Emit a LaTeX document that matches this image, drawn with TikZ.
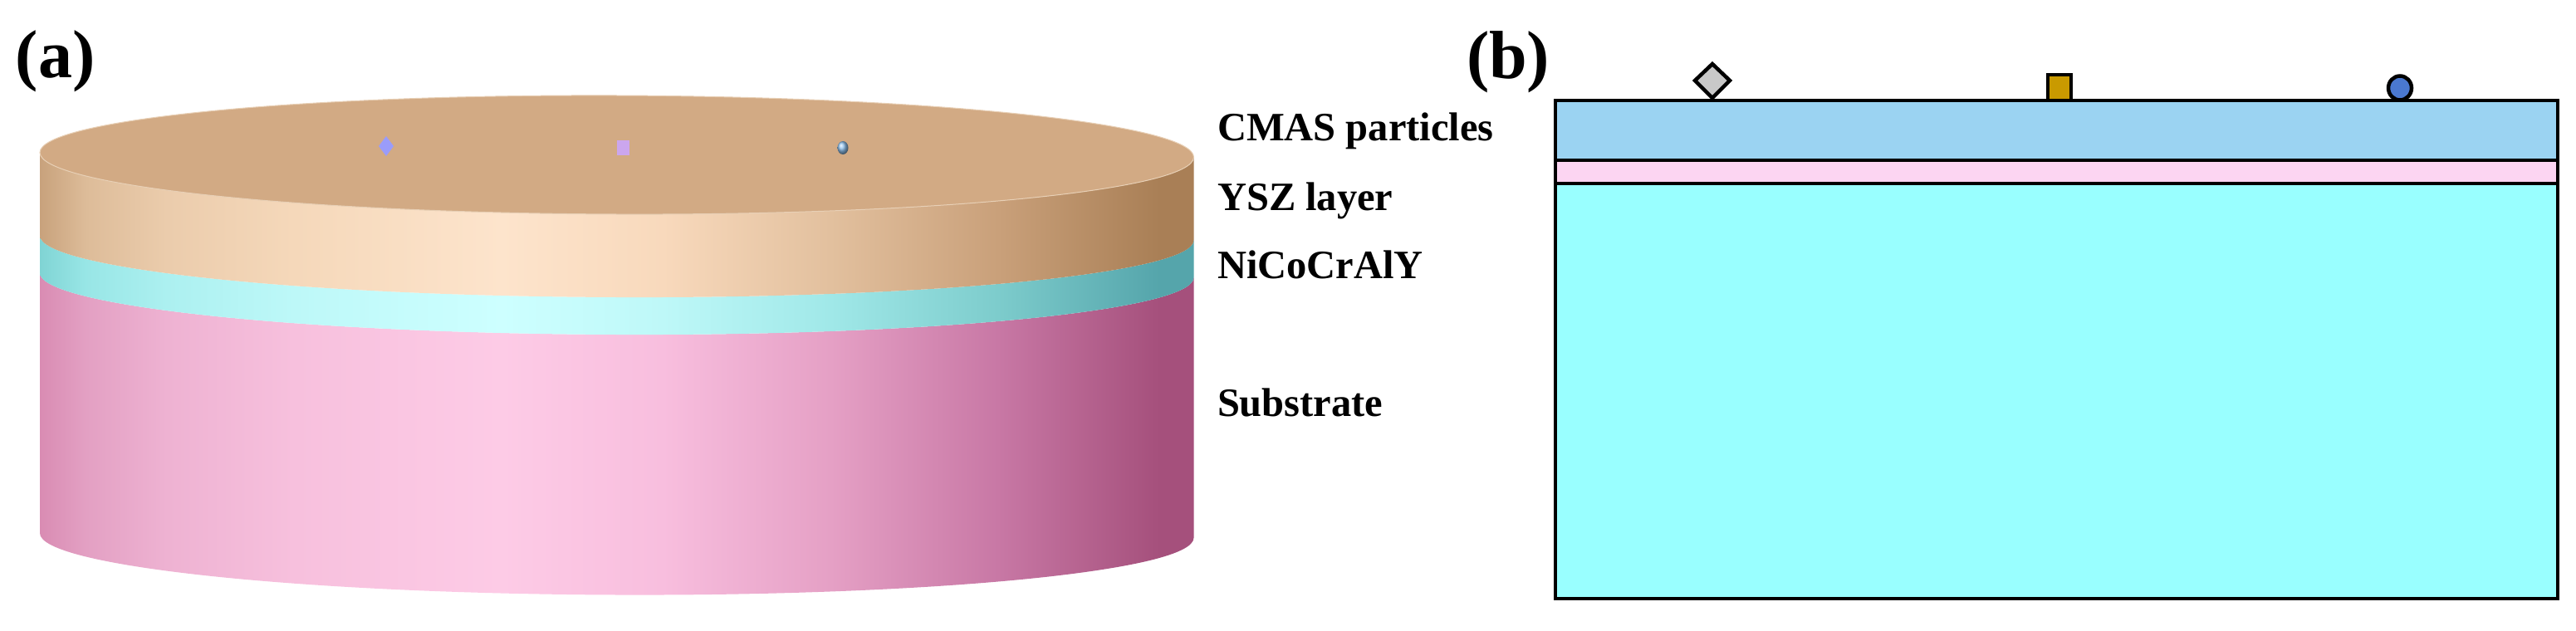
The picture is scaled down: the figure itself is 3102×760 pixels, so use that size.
\documentclass[tikz,border=0pt]{standalone}
\usepackage{fontspec}
\setmainfont{Liberation Serif}
\definecolor{topface}{HTML}{D2AA84}
\definecolor{topedge}{HTML}{E8D0B6}
\definecolor{blueL}{HTML}{9BD3F2}
\definecolor{pinkL}{HTML}{FCD5F2}
\definecolor{cyanL}{HTML}{99FFFF}
\definecolor{ya}{HTML}{C8A27C}\definecolor{yb}{HTML}{DDBC99}\definecolor{yi}{HTML}{EBCCAC}\definecolor{yc}{HTML}{F5D8BA}\definecolor{yd}{HTML}{FDE4CC}\definecolor{ye}{HTML}{F8D9BC}\definecolor{yf}{HTML}{E2C09E}\definecolor{yg}{HTML}{C9A07A}\definecolor{yh}{HTML}{A97F56}
\definecolor{ta}{HTML}{80D4D4}\definecolor{tb}{HTML}{98E6E6}\definecolor{ti}{HTML}{ACF0F0}\definecolor{tc}{HTML}{BDF8F8}\definecolor{td}{HTML}{CDFFFF}\definecolor{te}{HTML}{BEF8F8}\definecolor{tf}{HTML}{A0E8E8}\definecolor{tg}{HTML}{7DCCCC}\definecolor{th}{HTML}{55A5AB}
\definecolor{pa}{HTML}{D98CB3}\definecolor{pb}{HTML}{E3A0C3}\definecolor{pi}{HTML}{EEB2D2}\definecolor{pc}{HTML}{F7C0DD}\definecolor{pd}{HTML}{FDCBE6}\definecolor{pe}{HTML}{F8BEDE}\definecolor{pf}{HTML}{E5A0C5}\definecolor{pg}{HTML}{C878A5}\definecolor{ph}{HTML}{A5507C}
\definecolor{partA}{HTML}{9A9CFA}\definecolor{partB}{HTML}{CBA6EE}\definecolor{partC}{HTML}{8FC0EC}
\definecolor{gemgray}{HTML}{C8C8C8}\definecolor{gemgold}{HTML}{C99A00}\definecolor{gemblue}{HTML}{4A78D0}
\pgfdeclarehorizontalshading{yszbody}{100bp}{color(0bp)=(ya); color(25bp)=(ya); color(27bp)=(yb); color(30.5bp)=(yi); color(36bp)=(yc); color(45bp)=(yd); color(52bp)=(ye); color(59.25bp)=(yf); color(66.5bp)=(yg); color(73.5bp)=(yh); color(100bp)=(yh)}
\pgfdeclarehorizontalshading{teabody}{100bp}{color(0bp)=(ta); color(25bp)=(ta); color(27bp)=(tb); color(30.5bp)=(ti); color(36bp)=(tc); color(45bp)=(td); color(52bp)=(te); color(59.25bp)=(tf); color(66.5bp)=(tg); color(73.5bp)=(th); color(100bp)=(th)}
\pgfdeclarehorizontalshading{pinkbody}{100bp}{color(0bp)=(pa); color(25bp)=(pa); color(27bp)=(pb); color(30.5bp)=(pi); color(36bp)=(pc); color(45bp)=(pd); color(52bp)=(pe); color(59.25bp)=(pf); color(66.5bp)=(pg); color(73.5bp)=(ph); color(100bp)=(ph)}
\tikzset{
 lab/.style={font=\fontsize{48.5}{48.5}\selectfont\bfseries,anchor=base west,inner sep=0pt,outer sep=0pt},
 paneltag/.style={font=\fontsize{82}{82}\selectfont\bfseries,anchor=base west,inner sep=0pt,outer sep=0pt},
 blk/.style={draw=black,line width=4.5pt},
}
\newcommand{\cylband}[3]{% top centre y, bottom centre y, shading
 \shade[shading=#3] (48,#1) -- (48,#2) arc[start angle=180,end angle=360,x radius=694.75pt,y radius=71.5pt]
   -- (1437.5,#1) arc[start angle=0,end angle=-180,x radius=694.75pt,y radius=71.5pt] -- cycle;}
\begin{document}
\begin{tikzpicture}[x=1pt,y=-1pt]
\useasboundingbox (0,0) rectangle (3102,760);
% panel (a): cylinder, very slightly tilted as in the reference
\begin{scope}[shift={(742.75,0)},yslant=-0.004,shift={(-742.75,0)}]
\cylband{331.5}{645}{pinkbody}
\cylband{286.5}{331.5}{teabody}
\cylband{186.5}{286.5}{yszbody}
\draw[fill=topface,draw=topedge,line width=1pt] (742.75,186.5) ellipse[x radius=694.75pt,y radius=71.5pt];
\end{scope}
\fill[partA] (465,164) -- (474,176) -- (465,188) -- (456,176) -- cycle;
\fill[partB] (750,178) ++(-7.5,-9) rectangle ++(15,18);
\shade[ball color=partC] (1015,178) ellipse[x radius=6.5pt,y radius=8pt];
\node[paneltag] (tagA) at (19,93) {(a)};
\node[lab] (lCMAS) at (1466,169) {CMAS particles};
\node[lab] (lYSZ) at (1466,253) {YSZ layer};
\node[lab] (lNi) at (1466,335) {NiCoCrAlY};
\node[lab] (lSub) at (1466,501) {Substrate};
% panel (b): cross-section
\node[paneltag] (tagB) at (1766,95) {(b)};
\fill[blueL] (1873,121) rectangle (3080,193);
\fill[pinkL] (1873,193) rectangle (3080,221);
\fill[cyanL] (1873,221) rectangle (3080,721);
\draw[blk] (1873,193) -- (3080,193);
\draw[blk] (1873,221) -- (3080,221);
\draw[blk] (1873,121) rectangle (3080,721);
\draw[blk,fill=gemgray,line join=miter] (2062,77) -- (2083,97) -- (2062,118) -- (2041,97) -- cycle;
\draw[blk,fill=gemgold] (2466,90) rectangle (2494,121);
\draw[blk,fill=gemblue] (2890,106) ellipse[x radius=14pt,y radius=14.5pt];
\end{tikzpicture}
\end{document}
